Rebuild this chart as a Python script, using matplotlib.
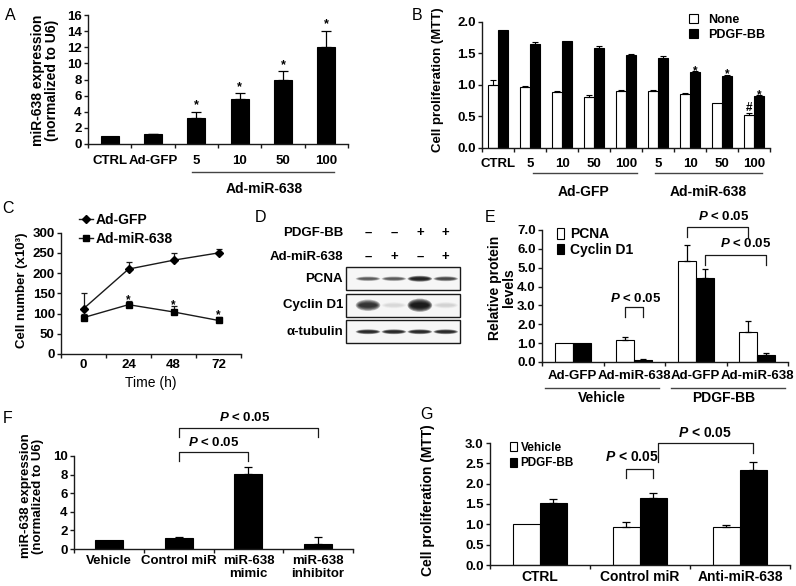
import matplotlib
matplotlib.use('Agg')
import matplotlib.pyplot as plt
import numpy as np
from matplotlib.patches import Rectangle, Ellipse, Patch
from matplotlib.lines import Line2D

W, H = 796, 586
plt.rcParams['font.family'] = ['Liberation Sans', 'DejaVu Sans']
plt.rcParams['font.weight'] = 'bold'
plt.rcParams['mathtext.fontset'] = 'custom'
plt.rcParams['mathtext.it'] = 'Liberation Sans:italic:bold'
plt.rcParams['mathtext.rm'] = 'Liberation Sans:bold'

# ---------------- data ----------------
a_cats = ['CTRL', 'Ad-GFP', '5', '10', '50', '100']
a_vals = [1.0, 1.2, 3.2, 5.6, 8.0, 12.0]
a_err = [0.0, 0.1, 0.8, 0.7, 1.0, 2.0]
a_sig = [False, False, True, True, True, True]

b_cats = ['CTRL', '5', '10', '50', '100', '5', '10', '50', '100']
b_none = [1.0, 0.96, 0.88, 0.81, 0.91, 0.91, 0.86, 0.72, 0.53]
b_none_err = [0.08, 0.02, 0.02, 0.03, 0.01, 0.01, 0.01, 0.0, 0.03]
b_pdgf = [1.87, 1.65, 1.69, 1.59, 1.48, 1.42, 1.20, 1.14, 0.82]
b_pdgf_err = [0.0, 0.03, 0.0, 0.02, 0.01, 0.03, 0.02, 0.02, 0.02]
b_sig = [False, False, False, False, False, False, True, True, True]
b_hash = [False, False, False, False, False, False, False, False, True]

c_times = ['0', '24', '48', '72']
c_gfp = [112, 210, 232, 250]
c_gfp_err = [40, 17, 17, 10]
c_mir = [90, 122, 104, 83]
c_mir_err = [10, 8, 14, 8]
c_sig = [False, True, True, True]

d_pdgf = ['\u2013', '\u2013', '+', '+']
d_mir = ['\u2013', '+', '\u2013', '+']
d_rows = ['PCNA', 'Cyclin D1', '\u03b1-tubulin']
d_pcna = [0.5, 0.5, 0.9, 0.6]
d_cyclin = [0.75, 0.06, 1.0, 0.08]
d_tub = [0.85, 0.85, 0.85, 0.85]

e_cats = ['Ad-GFP', 'Ad-miR-638', 'Ad-GFP', 'Ad-miR-638']
e_groups = ['Vehicle', 'PDGF-BB']
e_pcna = [1.0, 1.15, 5.35, 1.6]
e_pcna_err = [0.0, 0.18, 0.85, 0.55]
e_cyc = [1.0, 0.13, 4.45, 0.35]
e_cyc_err = [0.0, 0.05, 0.5, 0.12]

f_cats = ['Vehicle', 'Control miR', 'miR-638\nmimic', 'miR-638\ninhibitor']
f_vals = [1.0, 1.2, 8.1, 0.55]
f_err = [0.0, 0.1, 0.75, 0.7]

g_cats = ['CTRL', 'Control miR', 'Anti-miR-638']
g_veh = [1.0, 0.94, 0.94]
g_veh_err = [0.0, 0.11, 0.05]
g_pdgf = [1.53, 1.65, 2.34]
g_pdgf_err = [0.1, 0.11, 0.2]

PTXT = r'$P$ < 0.05'
INK = '#1a1a1a'

fig = plt.figure(figsize=(W / 100, H / 100), dpi=100)


def add_ax(x0, y0, x1, y1):
    return fig.add_axes([x0 / W, 1 - y1 / H, (x1 - x0) / W, (y1 - y0) / H])


def ftext(x, y, s, **kw):
    return fig.text(x / W, 1 - y / H, s, **kw)


def style_ax(ax, fs=9.5):
    for s in ('top', 'right'):
        ax.spines[s].set_visible(False)
    for s in ('left', 'bottom'):
        ax.spines[s].set_linewidth(1.0)
        ax.spines[s].set_color(INK)
    ax.tick_params(axis='both', which='major', direction='out', length=3,
                   width=1.0, color=INK, labelsize=fs, pad=1.5)


def cat_axis(ax, cats, pad, fs=9.5, ls=1.0):
    n = len(cats)
    ax.set_xlim(-0.5, n - 0.5)
    ax.set_xticks(np.arange(n + 1) - 0.5)
    ax.set_xticklabels([])
    ax.set_xticks(np.arange(n), minor=True)
    ax.set_xticklabels(cats, minor=True, fontsize=fs, linespacing=ls)
    ax.tick_params(axis='x', which='minor', length=0, pad=pad)


def up_err(ax, x, y, e, cap, lw=0.9):
    x = np.asarray(x, float); y = np.asarray(y, float); e = np.asarray(e, float)
    m = e > 0
    ax.errorbar(x[m], y[m], yerr=[np.zeros(m.sum()), e[m]], fmt='none',
                ecolor='black', elinewidth=lw, capsize=cap, capthick=lw, zorder=3)


def bracket(ax, x0, x1, ytop, y0low, y1low, text, tx, ty, fs=9.5):
    ax.plot([x0, x0, x1, x1], [y0low, ytop, ytop, y1low], color=INK, lw=0.9,
            clip_on=False)
    ax.text(tx, ty, text, ha='center', va='center', fontsize=fs, clip_on=False)


def group_line(ax, x0, x1, y, label, lx, ly, fs=10, color='#444'):
    tr = ax.get_xaxis_transform()
    ax.plot([x0, x1], [y, y], color=color, lw=1.0, transform=tr, clip_on=False)
    ax.text(lx, ly, label, transform=tr, ha='center', va='center', fontsize=fs)


# ---------------- panel letters ----------------
for letter, (lx, ly) in zip('ABCDEFG', [(5, 20), (412, 20), (2, 213), (255, 222),
                                        (485, 222), (3, 423), (420, 419)]):
    ftext(lx, ly, letter, fontsize=11.5, fontweight='normal', ha='left', va='baseline')

# ---------------- A ----------------
axA = add_ax(88, 15, 348, 144)
style_ax(axA)
xa = np.arange(len(a_cats))
axA.bar(xa, a_vals, 0.42, color='black', edgecolor='black', lw=0.8, zorder=2)
up_err(axA, xa, a_vals, a_err, 3.5)
axA.set_ylim(0, 16)
axA.set_yticks(np.arange(0, 17, 2))
cat_axis(axA, a_cats, 8)
for xi, v, e, s in zip(xa, a_vals, a_err, a_sig):
    if s:
        axA.annotate('*', (xi, v + e), xytext=(0, 2.5), textcoords='offset points',
                     ha='center', va='baseline', fontsize=9)
group_line(axA, 1.9, 5.18, -0.217, 'Ad-miR-638', 3.56, -0.345)
ftext(45, 80, 'miR-638 expression\n(normalized to U6)', rotation=90, ha='center',
      va='center', fontsize=10, linespacing=1.05)

# ---------------- B ----------------
axB = add_ax(482, 21.7, 770, 148)
style_ax(axB)
xb = np.arange(len(b_cats))
bw = 0.3
axB.bar(xb - bw / 2, b_none, bw, color='white', edgecolor='black', lw=0.8, zorder=2)
axB.bar(xb + bw / 2, b_pdgf, bw, color='black', edgecolor='black', lw=0.8, zorder=2)
up_err(axB, xb - bw / 2, b_none, b_none_err, 2, lw=0.8)
up_err(axB, xb + bw / 2, b_pdgf, b_pdgf_err, 2, lw=0.8)
axB.set_ylim(0, 2.0)
axB.set_yticks(np.arange(0, 2.01, 0.5))
axB.set_yticklabels(['%.1f' % t for t in np.arange(0, 2.01, 0.5)])
cat_axis(axB, b_cats, 7.5)
for xi, v, e, s in zip(xb, b_pdgf, b_pdgf_err, b_sig):
    if s:
        axB.annotate('*', (xi + bw / 2, v + e), xytext=(0, -2), textcoords='offset points',
                     ha='center', va='baseline', fontsize=8.5)
for xi, v, e, s in zip(xb, b_none, b_none_err, b_hash):
    if s:
        axB.annotate('#', (xi - bw / 2, v + e), xytext=(0, 1), textcoords='offset points',
                     ha='center', va='baseline', fontsize=8.5)
group_line(axB, 1.09, 4.34, -0.198, 'Ad-GFP', 2.66, -0.35)
group_line(axB, 4.91, 8.25, -0.198, 'Ad-miR-638', 6.56, -0.35)
axB.legend(handles=[Patch(facecolor='white', edgecolor='black', lw=0.8),
                    Patch(facecolor='black', edgecolor='black', lw=0.8)],
           labels=['None', 'PDGF-BB'], loc='upper left', bbox_to_anchor=(0.719, 1.06),
           frameon=False, fontsize=9, handlelength=0.7, handleheight=0.75,
           handletextpad=0.8, labelspacing=0.25, borderpad=0, borderaxespad=0)
ftext(438, 80, 'Cell proliferation (MTT)', rotation=90, ha='center', va='center',
      fontsize=9.5)

# ---------------- C ----------------
axC = add_ax(61, 232.7, 241, 354)
style_ax(axC)
xc = np.arange(len(c_times)) + 0.5
axC.errorbar(xc, c_gfp, yerr=[np.zeros(4), c_gfp_err], color=INK, lw=1.0,
             marker='D', ms=4.5, mfc='black', mec='black', ecolor=INK,
             elinewidth=0.9, capsize=2, capthick=0.9, label='Ad-GFP', zorder=3)
axC.errorbar(xc, c_mir, yerr=[np.zeros(4), c_mir_err], color=INK, lw=1.0,
             marker='s', ms=5, mfc='black', mec='black', ecolor=INK,
             elinewidth=0.9, capsize=2, capthick=0.9, label='Ad-miR-638', zorder=3)
axC.set_xlim(0, 4)
axC.set_xticks(np.arange(0, 5))
axC.set_xticklabels([])
axC.set_xticks(xc, minor=True)
axC.set_xticklabels(c_times, minor=True, fontsize=9.5)
axC.tick_params(axis='x', which='minor', length=0, pad=3.5)
axC.set_ylim(0, 300)
axC.set_yticks(np.arange(0, 301, 50))
for xi, v, e, s in zip(xc, c_mir, c_mir_err, c_sig):
    if s:
        axC.annotate('*', (xi, v + e), xytext=(0, -1), textcoords='offset points',
                     ha='center', va='baseline', fontsize=8.5)
axC.legend(handles=[Line2D([], [], color=INK, lw=1, marker='D', ms=4.5, mfc='black', mec='black'),
                    Line2D([], [], color=INK, lw=1, marker='s', ms=5, mfc='black', mec='black')],
           labels=['Ad-GFP', 'Ad-miR-638'], loc='upper left', bbox_to_anchor=(0.1, 1.16),
           frameon=False, fontsize=10, handlelength=1.0, handletextpad=0.2,
           labelspacing=0.35, borderpad=0, borderaxespad=0)
axC.set_xlabel('Time (h)', fontsize=10, labelpad=4)
ftext(22, 290, 'Cell number (x10\u00b3)', rotation=90, ha='center', va='center',
      fontsize=9.5)

# ---------------- D (western blot) ----------------
axD = add_ax(346, 265.5, 460, 345)
axD.set_xlim(0.15, 4.55)
axD.set_ylim(3, 0)
axD.axis('off')
lanes = np.arange(1, 5)
band_sets = [d_pcna, d_cyclin, d_tub]
band_h = [0.24, 0.5, 0.2]
for r, (lab, vals, bh) in enumerate(zip(d_rows, band_sets, band_h)):
    rc = r + 0.5
    axD.add_patch(Rectangle((0.15, r + 0.065), 4.4, 0.87, facecolor='#f6f6f6',
                            edgecolor=INK, lw=1.0, clip_on=False))
    for ln, v in zip(lanes, vals):
        hh = bh * (0.45 + 0.55 * v)
        for k in range(6):
            s = 1 - k * 0.13
            axD.add_patch(Ellipse((ln, rc), 0.95 * (0.55 + 0.45 * s), hh * s,
                                  facecolor='black', edgecolor='none',
                                  alpha=min(1.0, 0.3 * v), clip_on=False))
    axD.text(0.03, rc, lab, ha='right', va='center', fontsize=9.5)
for yy, lab, signs in [(-1.23, 'PDGF-BB', d_pdgf), (-0.32, 'Ad-miR-638', d_mir)]:
    axD.text(0.03, yy, lab, ha='right', va='center', fontsize=9.5)
    for ln, sg in zip(lanes, signs):
        axD.text(ln, yy, sg, ha='center', va='center', fontsize=9.5)

# ---------------- E ----------------
axE = add_ax(542, 230, 788, 362)
style_ax(axE)
xe = np.arange(len(e_cats))
ew = 0.29
axE.bar(xe - ew / 2, e_pcna, ew, color='white', edgecolor='black', lw=0.8, zorder=2)
axE.bar(xe + ew / 2, e_cyc, ew, color='black', edgecolor='black', lw=0.8, zorder=2)
up_err(axE, xe - ew / 2, e_pcna, e_pcna_err, 2.5)
up_err(axE, xe + ew / 2, e_cyc, e_cyc_err, 2.5)
axE.set_ylim(0, 7)
axE.set_yticks(np.arange(0, 7.01, 1))
axE.set_yticklabels(['%.1f' % t for t in np.arange(0, 7.01, 1)])
cat_axis(axE, e_cats, 5.5, fs=9.5)
bracket(axE, 1 - ew / 2, 1 + ew / 2, 2.92, 2.39, 2.39, PTXT, 1.03, 3.39)
bracket(axE, 2 - ew / 2, 3 - ew / 2, 7.16, 6.63, 6.63, PTXT, 2.45, 7.74)
bracket(axE, 2 + ew / 2, 3 + ew / 2, 5.67, 5.14, 5.14, PTXT, 2.82, 6.31)
group_line(axE, -0.45, 1.40, -0.197, e_groups[0], 0.47, -0.275)
group_line(axE, 1.60, 3.45, -0.197, e_groups[1], 2.45, -0.275)
axE.legend(handles=[Patch(facecolor='white', edgecolor='black', lw=0.8),
                    Patch(facecolor='black', edgecolor='black', lw=0.8)],
           labels=['PCNA', 'Cyclin D1'], loc='upper left', bbox_to_anchor=(0.06, 1.02),
           frameon=False, fontsize=10, handlelength=0.55, handleheight=0.75,
           handletextpad=0.4, labelspacing=0.1, borderpad=0, borderaxespad=0)
ftext(502, 288, 'Relative protein\nlevels', rotation=90, ha='center', va='center',
      fontsize=10, linespacing=0.92)

# ---------------- F ----------------
axF = add_ax(74, 456, 353, 549)
style_ax(axF)
xf = np.arange(len(f_cats))
axF.bar(xf, f_vals, 0.4, color='black', edgecolor='black', lw=0.8, zorder=2)
up_err(axF, xf, f_vals, f_err, 3)
axF.set_ylim(0, 10)
axF.set_yticks(np.arange(0, 11, 2))
cat_axis(axF, f_cats, 4.5, fs=9.5, ls=1.05)
bracket(axF, 1, 2, 10.4, 9.46, 9.46, PTXT, 1.5, 11.4)
bracket(axF, 1, 3, 13.0, 12.04, 12.04, PTXT, 1.95, 14.1)
ftext(32, 496, 'miR-638 expression\n(normalized to U6)', rotation=90, ha='center',
      va='center', fontsize=9.5, linespacing=1.05)

# ---------------- G ----------------
axG = add_ax(490, 443, 790, 565)
style_ax(axG)
xg = np.arange(len(g_cats))
gw = 0.27
axG.bar(xg - gw / 2, g_veh, gw, color='white', edgecolor='black', lw=0.8, zorder=2)
axG.bar(xg + gw / 2, g_pdgf, gw, color='black', edgecolor='black', lw=0.8, zorder=2)
up_err(axG, xg - gw / 2, g_veh, g_veh_err, 3)
up_err(axG, xg + gw / 2, g_pdgf, g_pdgf_err, 3)
axG.set_ylim(0, 3)
axG.set_yticks(np.arange(0, 3.01, 0.5))
axG.set_yticklabels(['%.1f' % t for t in np.arange(0, 3.01, 0.5)])
cat_axis(axG, g_cats, 3.5, fs=10)
bracket(axG, 1 - gw / 2, 1 + gw / 2, 2.36, 2.14, 2.14, PTXT, 0.92, 2.66, fs=10)
bracket(axG, 1 + gw / 2 + 0.05, 2 + gw / 2, 3.0, 2.53, 2.75, PTXT, 1.65, 3.25, fs=10)
axG.legend(handles=[Patch(facecolor='white', edgecolor='black', lw=0.8),
                    Patch(facecolor='black', edgecolor='black', lw=0.8)],
           labels=['Vehicle', 'PDGF-BB'], loc='upper left', bbox_to_anchor=(0.067, 1.01),
           frameon=False, fontsize=8.5, handlelength=0.6, handleheight=0.75,
           handletextpad=0.3, labelspacing=0.3, borderpad=0, borderaxespad=0)
ftext(428, 500, 'Cell proliferation (MTT)', rotation=90, ha='center', va='center',
      fontsize=10)

fig.savefig('out.png', dpi=100)
